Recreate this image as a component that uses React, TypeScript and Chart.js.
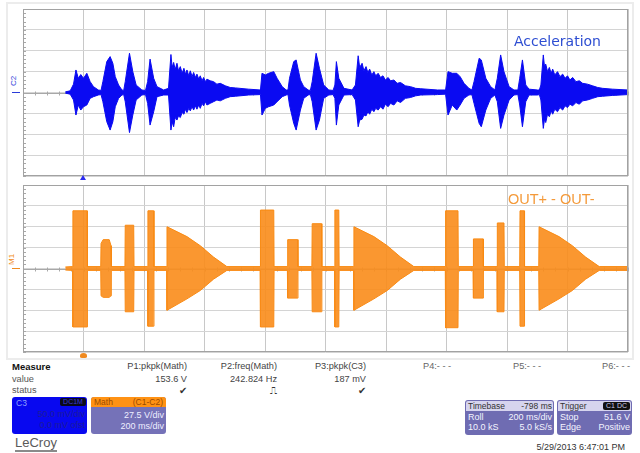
import React, { useEffect, useRef } from "react";
import { Chart, registerables } from "chart.js";
Chart.register(...registerables);

// ---- Top trace: Acceleration (C3), envelope in mV, time in ms (10 div x 200 ms) ----
const accTime = [140, 156, 167, 175, 183, 191, 200, 211, 222, 233, 249, 258, 264, 277, 288, 297, 305, 316, 327, 333, 338, 352, 363, 374, 393, 405, 412, 420, 432, 443, 465, 481,
  489, 493, 498, 503, 509, 514, 520, 526, 532, 537, 542, 548, 553, 559, 564, 570, 575, 581, 586, 592, 597, 603, 608, 619, 630, 641, 652, 669, 685, 702, 746, 785,
  790, 801, 812, 829, 840, 857, 870, 876, 881, 895, 903, 917, 928, 943, 950, 956, 969, 980, 994, 1011, 1025, 1031, 1036, 1044, 1061, 1088, 1099,
  1108, 1113, 1121, 1127, 1134, 1140, 1146, 1153, 1160, 1166, 1174, 1182, 1190, 1198, 1207, 1215, 1226, 1237, 1248, 1264, 1281, 1298, 1315, 1370, 1397,
  1405, 1419, 1434, 1445, 1458, 1474, 1484, 1491, 1508, 1515, 1530, 1546, 1560, 1568, 1579, 1590, 1607, 1623, 1636, 1642, 1651, 1662, 1673, 1701, 1707, 1712,
  1720, 1724, 1728, 1734, 1740, 1746, 1751, 1758, 1767, 1775, 1784, 1792, 1800, 1808, 1817, 1828, 1839, 1850, 1866, 1883, 1900, 1916, 1949, 2000];
const accHigh = [1.5, 4, 20, 54, 34, 43, 34, 46, 26, 14, 6, 5, 26, 74, 86, 70, 38, 18, 6, 5, 26, 94, 50, 18, 6, 5, 26, 80, 34, 14, 6, 10,
  91, 60, 72, 55, 70, 52, 62, 46, 58, 44, 54, 40, 52, 38, 48, 36, 44, 32, 40, 28, 36, 26, 32, 28, 26, 20, 22, 16, 12, 11, 8, 6,
  46, 42, 46, 50, 34, 14, 6, 6, 34, 74, 78, 30, 14, 6, 5, 26, 94, 58, 18, 6, 5, 18, 74, 34, 10, 6, 18,
  88, 60, 70, 52, 62, 48, 56, 42, 50, 40, 46, 36, 40, 30, 36, 28, 30, 22, 24, 16, 14, 10, 9, 6, 6,
  50, 46, 46, 38, 22, 10, 6, 26, 82, 78, 34, 14, 6, 34, 90, 50, 14, 6, 6, 34, 78, 18, 8, 6, 6, 18,
  90, 62, 68, 50, 60, 46, 56, 42, 50, 38, 44, 34, 40, 30, 36, 26, 28, 22, 20, 16, 12, 10, 8, 6];
const accLow = [-1.5, -4, -18, -54, -30, -42, -34, -30, -14, -10, -6, -5, -22, -70, -90, -70, -34, -14, -6, -5, -22, -96, -54, -18, -6, -5, -26, -78, -46, -10, -6, -6,
  -90, -70, -82, -60, -66, -56, -60, -48, -52, -40, -48, -38, -44, -34, -42, -32, -40, -30, -38, -26, -32, -22, -30, -26, -22, -18, -20, -14, -10, -9, -6, -5,
  -54, -38, -34, -30, -22, -10, -6, -5, -30, -74, -90, -42, -14, -6, -5, -22, -90, -66, -14, -6, -5, -14, -78, -30, -6, -5, -18,
  -82, -66, -64, -54, -56, -46, -52, -40, -46, -38, -42, -34, -40, -28, -34, -26, -30, -20, -24, -14, -12, -8, -6, -5, -4,
  -54, -30, -42, -30, -14, -6, -5, -26, -74, -82, -42, -14, -6, -22, -86, -54, -18, -6, -5, -30, -82, -22, -6, -6, -5, -18,
  -86, -64, -72, -52, -58, -44, -52, -40, -46, -36, -42, -32, -36, -28, -32, -24, -28, -20, -18, -14, -10, -9, -7, -5];

// ---- Bottom trace: OUT+ - OUT- (Math), envelope in V ----
const outTime = [140, 164, 165, 212, 213, 257, 258, 265, 285, 291, 292, 337, 338, 366, 367, 412, 413, 432, 433, 475, 476, 542, 586, 630, 674, 784, 785, 829, 830, 874, 875, 908, 909, 955, 956, 987, 988, 1030, 1031, 1044, 1045, 1093, 1094, 1160, 1204, 1248, 1292, 1396, 1397, 1438, 1439, 1488, 1489, 1521, 1522, 1567, 1568, 1590, 1591, 1642, 1643, 1657, 1658, 1705, 1706, 1772, 1816, 1860, 1905, 2000];
const outHigh = [2, 2.5, 76, 76, 2.5, 2.5, 33, 38, 38, 30, 2.5, 2.5, 57, 57, 2.5, 2.5, 76, 76, 2.5, 2.5, 55, 42, 30, 15, 2.5, 2.5, 77, 77, 2.5, 2.5, 38, 38, 2.5, 2.5, 59, 59, 2.5, 2.5, 77, 77, 2.5, 2.5, 55, 42, 30, 15, 2.5, 2.5, 76, 76, 2.5, 2.5, 39, 39, 2.5, 2.5, 60, 60, 2.5, 2.5, 76, 76, 2.5, 2.5, 55, 42, 30, 15, 2.5, 2.5];
const outLow = [-2, -2.5, -77, -77, -2.5, -2.5, -36, -38, -38, -36, -2.5, -2.5, -57, -57, -2.5, -2.5, -76, -76, -2.5, -2.5, -55, -40, -29, -14, -2.5, -2.5, -77, -77, -2.5, -2.5, -39, -39, -2.5, -2.5, -57, -57, -2.5, -2.5, -77, -77, -2.5, -2.5, -55, -40, -29, -14, -2.5, -2.5, -78, -78, -2.5, -2.5, -39, -39, -2.5, -2.5, -57, -57, -2.5, -2.5, -76, -76, -2.5, -2.5, -55, -40, -29, -14, -2.5, -2.5];

const timeMin = 0;
const timeMax = 2000;
const timeStep = 200;

const scopeDecor = {
  id: "scopeDecor",
  beforeDatasetsDraw(chart: any) {
    const { ctx, chartArea: a, scales } = chart;
    const x = scales.x;
    const y = scales.y;
    const cy = Math.round(y.getPixelForValue(0)) + 0.5;
    ctx.save();
    ctx.strokeStyle = "#a8a8a8";
    ctx.lineWidth = 1;
    ctx.beginPath();
    ctx.moveTo(a.left, cy);
    ctx.lineTo(a.right, cy);
    for (let t = timeMin; t <= timeMax; t += timeStep / 5) {
      const px = Math.round(x.getPixelForValue(t)) + 0.5;
      ctx.moveTo(px, cy - 2);
      ctx.lineTo(px, cy + 2);
    }
    const span = (y.max - y.min) / 40;
    for (let v = y.min; v <= y.max + 1e-6; v += span) {
      const py = Math.round(y.getPixelForValue(v)) + 0.5;
      ctx.moveTo(a.left, py);
      ctx.lineTo(a.left + 3, py);
    }
    ctx.stroke();
    ctx.restore();
  },
  afterDraw(chart: any) {
    const { ctx, chartArea: a } = chart;
    ctx.save();
    ctx.strokeStyle = "#a2a2a2";
    ctx.lineWidth = 1;
    ctx.strokeRect(Math.round(a.left) + 0.5, Math.round(a.top) + 0.5, Math.round(a.right - a.left) - 1, Math.round(a.bottom - a.top) - 1);
    ctx.restore();
  },
};

function Scope(props: {
  time: number[];
  high: number[];
  low: number[];
  color: string;
  fill: string;
  range: number;
  top: number;
}) {
  const ref = useRef<HTMLCanvasElement>(null);
  useEffect(() => {
    const { time, high, low, color, fill, range } = props;
    const chart = new Chart(ref.current!, {
      type: "line",
      data: {
        datasets: [
          {
            data: time.map((t, i) => ({ x: t, y: high[i] })),
            borderColor: color,
            backgroundColor: fill,
            borderWidth: 1,
            pointRadius: 0,
            tension: 0,
            fill: "+1",
          },
          {
            data: time.map((t, i) => ({ x: t, y: low[i] })),
            borderColor: color,
            backgroundColor: fill,
            borderWidth: 1,
            pointRadius: 0,
            tension: 0,
            fill: false,
          },
        ],
      },
      options: {
        animation: false,
        responsive: false,
        maintainAspectRatio: false,
        layout: { padding: 1 },
        plugins: { legend: { display: false }, tooltip: { enabled: false } },
        scales: {
          x: {
            type: "linear",
            min: timeMin,
            max: timeMax,
            ticks: { display: false, stepSize: timeStep },
            grid: { color: "#c8c8c8", drawTicks: false },
            border: { display: false },
          },
          y: {
            min: -range,
            max: range,
            ticks: { display: false, stepSize: range / 4 },
            grid: { color: "#d4d4d4", drawTicks: false },
            border: { display: false },
          },
        },
      },
      plugins: [scopeDecor],
    });
    return () => chart.destroy();
  }, []);
  return (
    <canvas
      ref={ref}
      width={607}
      height={169}
      style={{ position: "absolute", left: 22, top: props.top, width: 607, height: 169 }}
    />
  );
}

function T(p: {
  x: number;
  y: number;
  text: string;
  size?: number;
  color?: string;
  bold?: boolean;
  right?: boolean;
  family?: string;
}) {
  const size = p.size ?? 9.2;
  const style: React.CSSProperties = {
    position: "absolute",
    top: p.y - size * 0.6,
    fontSize: size,
    lineHeight: `${size * 1.2}px`,
    color: p.color ?? "#444",
    fontWeight: p.bold ? 700 : 400,
    whiteSpace: "nowrap",
    fontFamily: p.family ?? "'Liberation Sans', Arial, sans-serif",
  };
  if (p.right) style.right = 640 - p.x;
  else style.left = p.x;
  return <div style={style}>{p.text}</div>;
}

function Box(p: { x: number; y: number; w: number; h: number; bg: string; r?: number; children?: any }) {
  return (
    <div
      style={{
        position: "absolute",
        left: p.x,
        top: p.y,
        width: p.w,
        height: p.h,
        background: p.bg,
        borderRadius: p.r ?? 3,
      }}
    >
      {p.children}
    </div>
  );
}

export default function App() {
  return (
    <div
      style={{
        position: "absolute",
        left: 0,
        top: 0,
        width: 640,
        height: 453,
        background: "#ffffff",
        overflow: "hidden",
        fontFamily: "'Liberation Sans', Arial, sans-serif",
      }}
    >
      <div
        style={{
          position: "absolute",
          left: 6,
          top: 2,
          width: 624,
          height: 354,
          border: "2px solid #ececec",
        }}
      />
      <Scope time={accTime} high={accHigh} low={accLow} color="#0a0af2" fill="#0a0af2" range={200} top={8} />
      <Scope time={outTime} high={outHigh} low={outLow} color="#f98a12" fill="rgba(249,140,25,0.9)" range={110} top={184} />

      <T x={514} y={41} text="Acceleration" size={14} color="#2e4ed2" family="'DejaVu Sans', Verdana, sans-serif" />
      <T x={508} y={200} text="OUT+ - OUT-" size={14.5} color="#f49a3a" />

      <div
        style={{
          position: "absolute",
          left: 10,
          top: 86,
          fontSize: 8,
          color: "#2a3bd8",
          transform: "rotate(-90deg)",
          transformOrigin: "left top",
          lineHeight: "8px",
        }}
      >
        C2
      </div>
      <div style={{ position: "absolute", left: 12, top: 92, width: 8, height: 1, background: "#2a3bd8" }} />
      <div
        style={{
          position: "absolute",
          left: 8,
          top: 265,
          fontSize: 8,
          color: "#f08a20",
          transform: "rotate(-90deg)",
          transformOrigin: "left top",
          lineHeight: "8px",
        }}
      >
        M1
      </div>
      <div style={{ position: "absolute", left: 12, top: 268, width: 8, height: 1, background: "#f08a20" }} />

      <div
        style={{
          position: "absolute",
          left: 80,
          top: 175,
          width: 0,
          height: 0,
          borderLeft: "3.5px solid transparent",
          borderRight: "3.5px solid transparent",
          borderBottom: "5px solid #2b2bf0",
        }}
      />
      <div
        style={{
          position: "absolute",
          left: 80,
          top: 353,
          width: 7,
          height: 5,
          borderRadius: "50% 50% 30% 30%",
          background: "#f08a20",
        }}
      />

      {/* Measure table */}
      <T x={12} y={367} text="Measure" bold color="#111" size={9.5} />
      <T x={12} y={380} text="value" color="#555" />
      <T x={12} y={391} text="status" color="#555" />

      <T x={187} y={367} right text="P1:pkpk(Math)" />
      <T x={187} y={380} right text="153.6 V" />
      <T x={187} y={391} right text="✔" color="#333" size={10} />

      <T x={277} y={367} right text="P2:freq(Math)" />
      <T x={277} y={380} right text="242.824 Hz" />
      <T x={277} y={391} right text="⎍" color="#333" size={10} family="'DejaVu Sans', sans-serif" />

      <T x={366} y={367} right text="P3:pkpk(C3)" />
      <T x={366} y={380} right text="187 mV" />
      <T x={366} y={391} right text="✔" color="#333" size={10} />

      <T x={423} y={367} text="P4:- - -" color="#666" />
      <T x={513} y={367} text="P5:- - -" color="#666" />
      <T x={602} y={367} text="P6:- - -" color="#666" />

      {/* C3 box */}
      <Box x={12} y={397} w={75} h={37} bg="#0808f0">
        <div style={{ position: "absolute", left: 4, top: 1, fontSize: 8.5, color: "#8fa0ff" }}>C3</div>
        <div
          style={{
            position: "absolute",
            right: 1,
            top: 1,
            width: 26,
            height: 8,
            background: "#0a0a1a",
            borderRadius: 2,
            fontSize: 7,
            lineHeight: "8px",
            color: "#3a3ad8",
            textAlign: "center",
          }}
        >
          DC1M
        </div>
        <div style={{ position: "absolute", right: 2, top: 12, fontSize: 9, color: "#1c1c9a" }}>50.0 mV/div</div>
        <div style={{ position: "absolute", right: 2, top: 23, fontSize: 9, color: "#1c1c9a" }}>0.0 mV ofst</div>
      </Box>

      {/* Math box */}
      <Box x={91} y={397} w={75} h={37} bg="#7572b8">
        <div
          style={{
            position: "absolute",
            left: 0,
            top: 0,
            width: 75,
            height: 10,
            background: "#ff9214",
            borderRadius: "3px 3px 0 0",
          }}
        />
        <div style={{ position: "absolute", left: 3, top: 0, fontSize: 8.5, lineHeight: "10px", color: "#9a4a00" }}>Math</div>
        <div style={{ position: "absolute", right: 3, top: 0, fontSize: 8.5, lineHeight: "10px", color: "#9a4a00" }}>(C1-C2)</div>
        <div style={{ position: "absolute", right: 2, top: 13, fontSize: 9, color: "#eeeeff" }}>27.5 V/div</div>
        <div style={{ position: "absolute", right: 2, top: 24, fontSize: 9, color: "#eeeeff" }}>200 ms/div</div>
      </Box>

      {/* Timebase box */}
      <Box x={465} y={400} w={89} h={35} bg="#6f6cb2">
        <div
          style={{
            position: "absolute",
            left: 1,
            top: 1,
            width: 87,
            height: 10,
            background: "#d6d4ee",
            borderRadius: "2px 2px 0 0",
          }}
        />
        <div style={{ position: "absolute", left: 3, top: 1, fontSize: 8.5, lineHeight: "10px", color: "#333" }}>Timebase</div>
        <div style={{ position: "absolute", right: 2, top: 1, fontSize: 8.5, lineHeight: "10px", color: "#333" }}>-798 ms</div>
        <div style={{ position: "absolute", left: 3, top: 12, fontSize: 9, color: "#f4f4ff" }}>Roll</div>
        <div style={{ position: "absolute", right: 2, top: 12, fontSize: 9, color: "#f4f4ff" }}>200 ms/div</div>
        <div style={{ position: "absolute", left: 3, top: 22, fontSize: 9, color: "#f4f4ff" }}>10.0 kS</div>
        <div style={{ position: "absolute", right: 2, top: 22, fontSize: 9, color: "#f4f4ff" }}>5.0 kS/s</div>
      </Box>

      {/* Trigger box */}
      <Box x={557} y={400} w={75} h={35} bg="#6f6cb2">
        <div
          style={{
            position: "absolute",
            left: 1,
            top: 1,
            width: 73,
            height: 10,
            background: "#d6d4ee",
            borderRadius: "2px 2px 0 0",
          }}
        />
        <div style={{ position: "absolute", left: 3, top: 1, fontSize: 8.5, lineHeight: "10px", color: "#333" }}>Trigger</div>
        <div
          style={{
            position: "absolute",
            right: 2,
            top: 2,
            width: 27,
            height: 8,
            background: "#111",
            borderRadius: 2,
            fontSize: 7,
            lineHeight: "8px",
            color: "#c8c8e8",
            textAlign: "center",
          }}
        >
          C1 DC
        </div>
        <div style={{ position: "absolute", left: 3, top: 12, fontSize: 9, color: "#f4f4ff" }}>Stop</div>
        <div style={{ position: "absolute", right: 2, top: 12, fontSize: 9, color: "#f4f4ff" }}>51.6 V</div>
        <div style={{ position: "absolute", left: 3, top: 22, fontSize: 9, color: "#f4f4ff" }}>Edge</div>
        <div style={{ position: "absolute", right: 2, top: 22, fontSize: 9, color: "#f4f4ff" }}>Positive</div>
      </Box>

      <T x={625} y={447} right text="5/29/2013 6:47:01 PM" color="#333" size={9} />
      <div
        style={{
          position: "absolute",
          left: 15,
          top: 436,
          fontSize: 13,
          lineHeight: "14px",
          color: "#5a5a5a",
          borderBottom: "2px solid #8a8a8a",
          paddingBottom: 0,
        }}
      >
        LeCroy
      </div>
    </div>
  );
}
